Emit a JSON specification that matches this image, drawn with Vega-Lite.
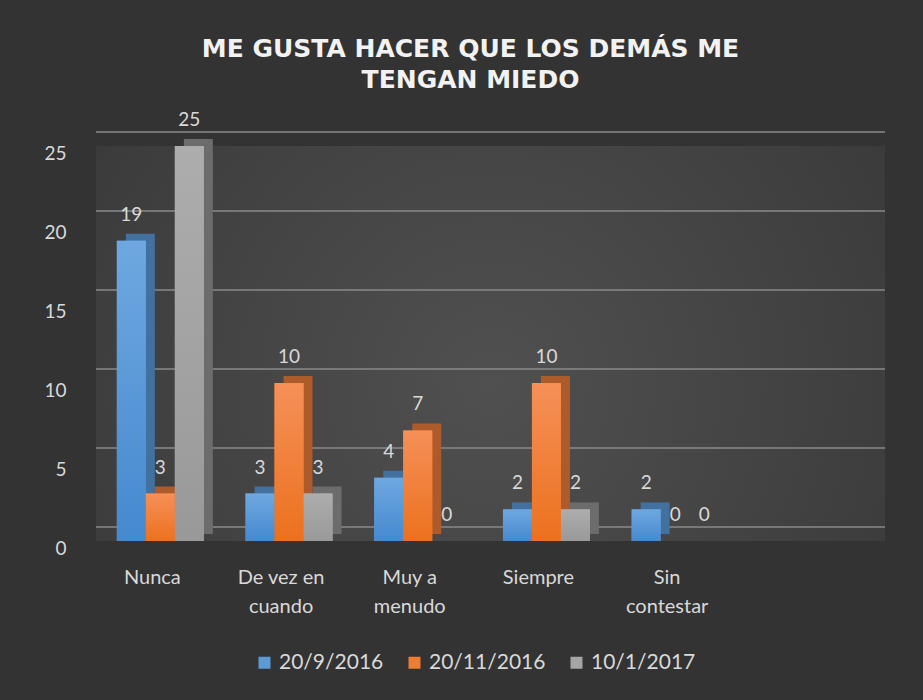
{
  "$schema": "https://vega.github.io/schema/vega-lite/v6.json",
  "width": 789,
  "height": 395,
  "autosize": {"type": "none"},
  "padding": {"left": 96, "top": 146, "right": 38, "bottom": 159},
  "background": "#333333",
  "view": {
    "stroke": null,
    "fill": {
      "gradient": "radial",
      "x1": 0.5, "y1": 0.55, "r1": 0,
      "x2": 0.5, "y2": 0.55, "r2": 0.75,
      "stops": [
        {"offset": 0, "color": "#505050"},
        {"offset": 1, "color": "#353535"}
      ]
    }
  },
  "title": {
    "text": ["ME GUSTA HACER QUE LOS DEMÁS ME", "TENGAN MIEDO"],
    "font": "DejaVu Sans",
    "fontWeight": "bold",
    "fontSize": 25,
    "lineHeight": 31.5,
    "color": "#F2F2F2",
    "anchor": "middle",
    "frame": "group",
    "dx": -20,
    "offset": 18
  },
  "data": {
    "values": [
      {"categoria": "Nunca", "fecha": "20/9/2016", "valor": 19},
      {"categoria": "Nunca", "fecha": "20/11/2016", "valor": 3},
      {"categoria": "Nunca", "fecha": "10/1/2017", "valor": 25},
      {"categoria": "De vez en cuando", "fecha": "20/9/2016", "valor": 3},
      {"categoria": "De vez en cuando", "fecha": "20/11/2016", "valor": 10},
      {"categoria": "De vez en cuando", "fecha": "10/1/2017", "valor": 3},
      {"categoria": "Muy a menudo", "fecha": "20/9/2016", "valor": 4},
      {"categoria": "Muy a menudo", "fecha": "20/11/2016", "valor": 7},
      {"categoria": "Muy a menudo", "fecha": "10/1/2017", "valor": 0},
      {"categoria": "Siempre", "fecha": "20/9/2016", "valor": 2},
      {"categoria": "Siempre", "fecha": "20/11/2016", "valor": 10},
      {"categoria": "Siempre", "fecha": "10/1/2017", "valor": 2},
      {"categoria": "Sin contestar", "fecha": "20/9/2016", "valor": 2},
      {"categoria": "Sin contestar", "fecha": "20/11/2016", "valor": 0},
      {"categoria": "Sin contestar", "fecha": "10/1/2017", "valor": 0}
    ]
  },
  "encoding": {
    "x": {
      "field": "categoria", "type": "nominal",
      "sort": ["Nunca", "De vez en cuando", "Muy a menudo", "Siempre", "Sin contestar"],
      "scale": {"range": [0, 643.5], "paddingInner": 0.324, "paddingOuter": 0.162},
      "axis": {
        "title": null, "domain": false, "ticks": false, "labelAngle": 0,
        "labelPadding": 26, "labelFontSize": 20, "labelFont": "Lato",
        "labelColor": "#D9D9D9", "labelLineHeight": 29, "labelOffset": -8,
        "labelExpr": "datum.label == 'De vez en cuando' ? ['De vez en', 'cuando'] : datum.label == 'Muy a menudo' ? ['Muy a', 'menudo'] : datum.label == 'Sin contestar' ? ['Sin', 'contestar'] : datum.label"
      }
    },
    "xOffset": {"field": "fecha", "scale": {"domain": ["20/9/2016", "20/11/2016", "10/1/2017"]}},
    "y": {
      "field": "valor", "type": "quantitative", "scale": {"domain": [0, 25], "nice": false},
      "axis": {
        "title": null, "grid": false, "domain": false, "ticks": false,
        "values": [0, 5, 10, 15, 20, 25], "labelPadding": 30,
        "labelFontSize": 19, "labelFont": "Lato", "labelColor": "#D9D9D9", "labelOffset": 7
      }
    }
  },
  "resolve": {"scale": {"xOffset": "independent", "color": "independent"}},
  "layer": [
    {
      "data": {"values": [{"v": 0}, {"v": 5}, {"v": 10}, {"v": 15}, {"v": 20}, {"v": 25}]},
      "mark": {"type": "rule", "yOffset": -14, "color": "#8a8a8a", "strokeWidth": 1.5},
      "encoding": {
        "x": null,
        "xOffset": null,
        "y": {
          "field": "v", "type": "quantitative", "scale": {"domain": [0, 25], "nice": false},
          "axis": {
            "title": null, "grid": false, "domain": false, "ticks": false,
            "values": [0, 5, 10, 15, 20, 25], "labelPadding": 30,
            "labelFontSize": 19, "labelFont": "Lato", "labelColor": "#D9D9D9", "labelOffset": 7
          }
        }
      }
    },
    {
      "mark": {"type": "bar", "yOffset": -7},
      "encoding": {
        "xOffset": {"field": "fecha", "scale": {"domain": ["20/9/2016", "20/11/2016", "10/1/2017"], "range": [9, 96]}},
        "color": {
          "field": "fecha", "type": "nominal",
          "scale": {"domain": ["20/9/2016", "20/11/2016", "10/1/2017"], "range": ["#42709f", "#ad5b2b", "#6c6c6c"]},
          "legend": null
        }
      }
    },
    {
      "mark": {"type": "bar"},
      "encoding": {
        "color": {
          "field": "fecha", "type": "nominal",
          "scale": {"domain": ["20/9/2016", "20/11/2016", "10/1/2017"], "range": ["#5B9BD5", "#ED7D31", "#A5A5A5"]},
          "legend": {
            "title": null, "orient": "none", "direction": "horizontal",
            "legendX": 158, "legendY": 506,
            "symbolType": "square", "symbolSize": 144, "symbolStrokeWidth": 0,
            "labelFontSize": 21, "labelFont": "Lato", "labelColor": "#D9D9D9",
            "labelOffset": 4, "columnPadding": 20
          }
        }
      }
    },
    {
      "transform": [{"filter": "datum.fecha == '20/9/2016'"}],
      "mark": {
        "type": "bar",
        "fill": {"gradient": "linear", "x1": 0, "y1": 0, "x2": 0, "y2": 1,
          "stops": [{"offset": 0, "color": "#6FA8E0"}, {"offset": 1, "color": "#4589CF"}]}
      }
    },
    {
      "transform": [{"filter": "datum.fecha == '20/11/2016'"}],
      "mark": {
        "type": "bar",
        "fill": {"gradient": "linear", "x1": 0, "y1": 0, "x2": 0, "y2": 1,
          "stops": [{"offset": 0, "color": "#F59058"}, {"offset": 1, "color": "#EC711E"}]}
      }
    },
    {
      "transform": [{"filter": "datum.fecha == '10/1/2017'"}],
      "mark": {
        "type": "bar",
        "fill": {"gradient": "linear", "x1": 0, "y1": 0, "x2": 0, "y2": 1,
          "stops": [{"offset": 0, "color": "#ADADAD"}, {"offset": 1, "color": "#999999"}]}
      }
    },
    {
      "mark": {"type": "text", "dy": -26, "fontSize": 19, "font": "Lato", "color": "#D9D9D9"},
      "encoding": {
        "text": {"field": "valor", "type": "quantitative"}
      }
    }
  ]
}
